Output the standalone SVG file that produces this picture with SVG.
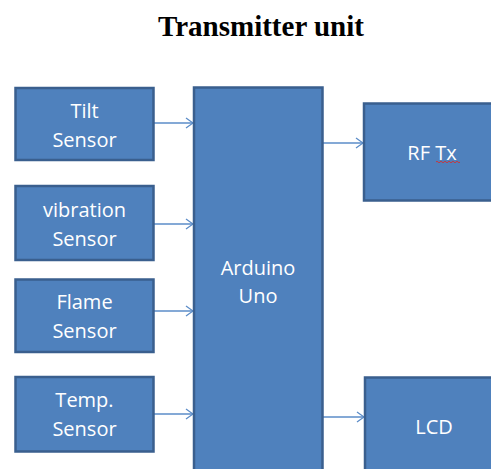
<svg xmlns="http://www.w3.org/2000/svg" width="491" height="469" viewBox="0 0 491 469">
<defs>
<style>
.box{fill:#4f81bd;stroke:#3a5f8e;stroke-width:2.5}
.lbl{font-family:"Open Sans","Liberation Sans",sans-serif;font-size:20px;fill:#ffffff;text-anchor:middle}
.title{font-family:"Liberation Serif","Times New Roman",serif;font-size:29px;font-weight:bold;fill:#000;text-anchor:middle}
.conn{stroke:#5b8cc8;stroke-width:1.3;fill:none}
</style>
<marker id="arr" markerWidth="10" markerHeight="12" refX="9" refY="6" orient="auto" markerUnits="userSpaceOnUse">
<path d="M2,1 L9,6 L2,11" fill="none" stroke="#5b8cc8" stroke-width="1.3"/>
</marker>
</defs>
<rect width="491" height="469" fill="#ffffff"/>
<text class="title" x="261" y="36">Transmitter unit</text>
<g id="connectors">
<line class="conn" x1="154" y1="123" x2="193" y2="123" marker-end="url(#arr)"/>
<line class="conn" x1="154" y1="224" x2="193" y2="224" marker-end="url(#arr)"/>
<line class="conn" x1="154" y1="311" x2="193" y2="311" marker-end="url(#arr)"/>
<line class="conn" x1="154" y1="414" x2="193" y2="414" marker-end="url(#arr)"/>
<line class="conn" x1="323" y1="143" x2="363" y2="143" marker-end="url(#arr)"/>
<line class="conn" x1="323" y1="417" x2="364" y2="417" marker-end="url(#arr)"/>
</g>
<g id="tilt">
<rect class="box" x="15.5" y="88" width="138" height="72"/>
<text class="lbl" x="84.5" y="118">Tilt</text>
<text class="lbl" x="84.5" y="146.5">Sensor</text>
</g>
<g id="vibration">
<rect class="box" x="15.5" y="186" width="138" height="74"/>
<text class="lbl" x="84.5" y="216.5">vibration</text>
<text class="lbl" x="84.5" y="245.5">Sensor</text>
</g>
<g id="flame">
<rect class="box" x="15.5" y="279.5" width="138" height="72.5"/>
<text class="lbl" x="84.5" y="309">Flame</text>
<text class="lbl" x="84.5" y="338">Sensor</text>
</g>
<g id="temp">
<rect class="box" x="15.5" y="377" width="138" height="74.5"/>
<text class="lbl" x="84.5" y="406.5">Temp.</text>
<text class="lbl" x="84.5" y="435.5">Sensor</text>
</g>
<g id="arduino">
<rect class="box" x="194" y="87.5" width="128.5" height="400"/>
<text class="lbl" x="258" y="274.5">Arduino</text>
<text class="lbl" x="258" y="302.5">Uno</text>
</g>
<g id="rftx">
<rect class="box" x="364" y="103.5" width="140" height="97"/>
<text class="lbl" x="432" y="159.5">RF Tx</text>
<path d="M436,162 q1,-1.5 2,0 t2,0 t2,0 t2,0 t2,0 t2,0 t2,0 t2,0 t2,0 t2,0 t2,0 t2,0" fill="none" stroke="#d03030" stroke-width="0.9"/>
</g>
<g id="lcd">
<rect class="box" x="365" y="377.5" width="140" height="120"/>
<text class="lbl" x="434" y="434">LCD</text>
</g>
</svg>
